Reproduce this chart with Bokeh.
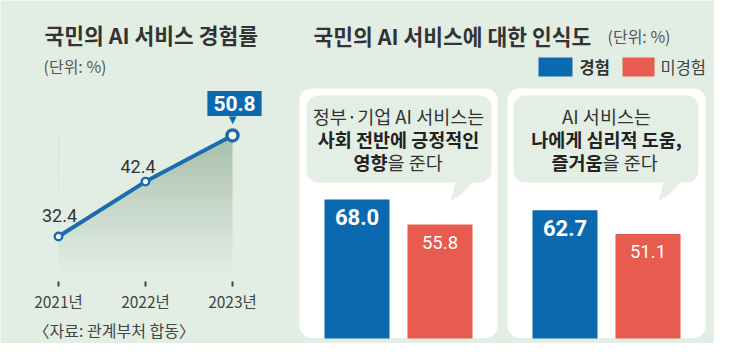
from bokeh.plotting import figure
from bokeh.models import Range1d, ColumnDataSource, Label, BoxAnnotation
from bokeh.transform import dodge
from bokeh.core.properties import value
from bokeh.embed import file_html
from bokeh.resources import INLINE
import numpy as np

# ---------------- data ----------------
years = [2021, 2022, 2023]
year_labels = ["2021년", "2022년", "2023년"]
usage_rate = [32.4, 42.4, 50.8]

q_index = [0, 1]
experienced = [68.0, 62.7]
not_experienced = [55.8, 51.1]
series_names = ["경험", "미경험"]

left_title = "국민의 AI 서비스 경험률"
right_title = "국민의 AI 서비스에 대한 인식도"
unit_text = "(단위: %)"
source_text = "〈자료: 관계부처 합동〉"

# ---------------- style ----------------
W, H = 714, 343
BG = "#e2eee4"
BUBBLE = "#e3eee4"
BLUE = "#0b69af"
LINE_BLUE = "#1a6cae"
RED = "#e85b4f"
DARK = "#2b2b2b"
GREY = "#555555"
KR = value("Noto Sans CJK KR")
NUM = value("Roboto")

p = figure(width=W, height=H, x_range=Range1d(0, W), y_range=Range1d(H, 0),
           output_backend="svg", toolbar_location=None, title=None, min_border=0,
           x_axis_location=None, y_axis_location=None)
p.grid.visible = False
p.outline_line_color = None
p.background_fill_color = BG
p.border_fill_color = BG

# scales for the data (pixel-aligned to the layout)
p.extra_x_ranges = {"yr": Range1d(2020.3333, 2028.5402), "q": Range1d(-1.9135, 1.5192)}
p.extra_y_ranges = {"pct": Range1d(12.91, 75.39), "bar": Range1d(-2.445, 165.28)}

def txt(x, y, s, size, color=DARK, style="normal", font=KR, align="left", **kw):
    p.text(x=[x], y=[y], text=[s], text_font=font, text_font_size=size,
           text_font_style=style, text_color=color, text_align=align,
           text_baseline="middle", **kw)

# ---------------- left panel: line chart ----------------
txt(44, 33.5, left_title, "21.5px", color="#333333", style="bold")
txt(43, 65, unit_text, "16px", color=GREY)

# gradient fill under the line
area_floor = 24.9
N = 80
img = np.zeros((N, 1), dtype=np.uint32)
view = img.view(dtype=np.uint8).reshape((N, 1, 4))
top_rgb = (168, 189, 170)
alpha = np.linspace(0.0, 1.0, N) ** 1.1
view[:, 0, 0] = top_rgb[0]
view[:, 0, 1] = top_rgb[1]
view[:, 0, 2] = top_rgb[2]
view[:, 0, 3] = (alpha * 255).astype(np.uint8)
p.image_rgba(image=[img], x=years[0], y=area_floor, dw=years[-1] - years[0],
             dh=max(usage_rate) - area_floor, x_range_name="yr", y_range_name="pct")
# mask above the line
p.varea(x=years, y1=usage_rate, y2=[max(usage_rate) + 1] * len(years),
        fill_color=BG, x_range_name="yr", y_range_name="pct")

p.line(years, usage_rate, line_width=4, line_color=LINE_BLUE,
       x_range_name="yr", y_range_name="pct")

marker_size = [7.5, 7.5, 11]
marker_lw = [2.4, 2.4, 3.5]
msrc = ColumnDataSource(dict(x=years, y=usage_rate, s=marker_size, lw=marker_lw))
p.scatter(x="x", y="y", size="s", line_width="lw", source=msrc, marker="circle",
          fill_color="white", line_color=LINE_BLUE, x_range_name="yr", y_range_name="pct")

lbl_dx = [1, -7.5]
lbl_dy = [-21, -15]
lsrc = ColumnDataSource(dict(x=years[:-1], y=usage_rate[:-1],
                             t=[f"{v:.1f}" for v in usage_rate[:-1]], dx=lbl_dx, dy=lbl_dy))
p.text(x="x", y="y", text="t", x_offset="dx", y_offset="dy", source=lsrc,
       text_font=NUM, text_font_size="18px", text_color="#333333",
       text_align="center", text_baseline="middle", x_range_name="yr", y_range_name="pct")

# callout for the latest value
p.text(x=[years[-1]], y=[usage_rate[-1]], text=["▼"], y_offset=-16,
       text_font=value("DejaVu Sans"), text_font_size="10px", text_color=BLUE,
       text_align="center", text_baseline="middle", x_range_name="yr", y_range_name="pct")
p.add_layout(Label(x=years[-1], y=usage_rate[-1], x_range_name="yr", y_range_name="pct",
                   text=f"{usage_rate[-1]:.1f}", x_offset=2, y_offset=32,
                   text_font="Roboto", text_font_size="21px", text_font_style="bold",
                   text_color="white", text_align="center", text_baseline="middle",
                   background_fill_color=BLUE, background_fill_alpha=1.0, padding=(6, 5)))

# x ticks and labels
p.segment(x0=years, y0=[281] * 3, x1=years, y1=[286] * 3, line_color="#444444",
          line_width=2, x_range_name="yr")
p.text(x=years, y=[300] * 3, text=year_labels, text_font=KR, text_font_size="15.5px",
       text_color="#444444", text_align="center", text_baseline="middle", x_range_name="yr")
txt(33, 329, source_text, "16px", color="#444444")

# ---------------- right panel: bars ----------------
txt(313, 34.5, right_title, "21.5px", color="#333333", style="bold")
txt(607, 35.5, unit_text, "16px", color=GREY)

# legend
p.quad(left=[538], right=[572], top=[57], bottom=[76], fill_color=BLUE, line_color=None)
txt(579, 66.5, series_names[0], "16.5px", color="#333333", style="bold")
p.quad(left=[622], right=[654], top=[57], bottom=[76], fill_color=RED, line_color=None)
txt(660, 66.5, series_names[1], "16.5px", color="#444444")

# cards and bubbles
for cx0 in (299, 507):
    p.add_layout(BoxAnnotation(left=cx0, right=cx0 + 198, top=88, bottom=337.5,
                               fill_color="white", fill_alpha=1.0, line_color=None,
                               border_radius=12, level="underlay"))
for bx0 in (306, 513):
    p.add_layout(BoxAnnotation(left=bx0, right=bx0 + 185, top=95, bottom=182,
                               fill_color=BUBBLE, fill_alpha=1.0, line_color=None,
                               border_radius=12, level="underlay"))
for tx in (0, 208):
    p.patch(x=[455 + tx, 453 + tx, 450 + tx, 458 + tx, 466 + tx, 473 + tx],
            y=[180, 190, 200, 196, 189, 180], fill_color=BUBBLE, line_color=None)

# bubble texts
FS = "18.5px"
txt(398, 115, "정부·기업 AI 서비스는", FS, color="#333333", align="center")
txt(398, 138, "사회 전반에 긍정적인", FS, color="#222222", style="bold", align="center")
txt(387, 161, "영향", FS, color="#222222", style="bold", align="right")
txt(387, 161, "을 준다", FS, color="#333333", align="left")

txt(606, 115, "AI 서비스는", FS, color="#333333", align="center")
txt(606, 138, "나에게 심리적 도움,", FS, color="#222222", style="bold", align="center")
txt(602, 161, "즐거움", FS, color="#222222", style="bold", align="right")
txt(602, 161, "을 준다", FS, color="#333333", align="left")

bsrc = ColumnDataSource(dict(q=q_index, exp=experienced, nexp=not_experienced,
                             exp_t=[f"{v:.1f}" for v in experienced],
                             nexp_t=[f"{v:.1f}" for v in not_experienced]))
DODGE = 0.1995
BW = 0.3125
p.vbar(x=dodge("q", -DODGE), top="exp", bottom=0, width=BW, source=bsrc,
       fill_color=BLUE, line_color=None, x_range_name="q", y_range_name="bar")
p.vbar(x=dodge("q", DODGE), top="nexp", bottom=0, width=BW, source=bsrc,
       fill_color=RED, line_color=None, x_range_name="q", y_range_name="bar")
p.text(x=dodge("q", -DODGE), y="exp", text="exp_t", y_offset=18, source=bsrc,
       text_font=NUM, text_font_size="22px", text_font_style="bold", text_color="white",
       text_align="center", text_baseline="middle", x_range_name="q", y_range_name="bar")
p.text(x=dodge("q", DODGE), y="nexp", text="nexp_t", y_offset=18, source=bsrc,
       text_font=NUM, text_font_size="18.5px", text_color="white",
       text_align="center", text_baseline="middle", x_range_name="q", y_range_name="bar")

open("out.html", "w").write(file_html(p, INLINE))
